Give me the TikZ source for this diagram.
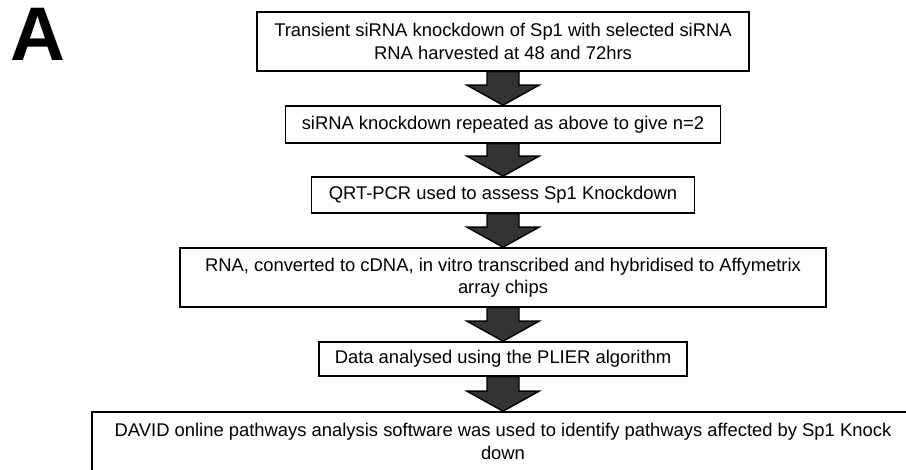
\documentclass[tikz,border=0pt]{standalone}
\usepackage{fontspec}
\setmainfont{Liberation Sans}

\begin{document}
\begin{tikzpicture}[x=1pt,y=1pt,
    procbox/.style={draw,line width=1.6pt,inner sep=0pt,align=center,font=\fontsize{18.4}{22.5}\selectfont},
    blockarrow/.style={draw=black,fill=black!80,line width=1.4pt,line join=miter}]
    \useasboundingbox(0,0)rectangle(906,-470);
    \clip(0,0)rectangle(906,-470);

    \node[anchor=north west,inner sep=0pt,font=\fontsize{76}{76}\bfseries\selectfont](panel)at(10,-8){A};

    \node[procbox,minimum width=492pt,minimum height=59pt](harvest)at(503,-41.5){Transient siRNA knockdown of Sp1 with selected siRNA\\RNA harvested at 48 and 72hrs};
    \node[procbox,minimum width=435pt,minimum height=37pt](repeatkd)at(503,-124.5){siRNA knockdown repeated as above to give n=2};
    \node[procbox,minimum width=383pt,minimum height=36pt](qpcr)at(503,-195){QRT-PCR used to assess Sp1 Knockdown};
    \node[procbox,minimum width=646pt,minimum height=59pt](arrays)at(503,-277.5){RNA, converted to cDNA, in vitro transcribed and hybridised to Affymetrix\\array chips};
    \node[procbox,minimum width=368pt,minimum height=34pt](plier)at(503,-359){Data analysed using the PLIER algorithm};
    \node[procbox,minimum width=822pt,minimum height=59pt](david)at(503,-441.5){DAVID online pathways analysis software was used to identify pathways affected by Sp1 Knock\\down};

    % fat arrows between the steps
    \foreach \a/\b in {harvest/repeatkd,repeatkd/qpcr,qpcr/arrays,arrays/plier,plier/david}
        \filldraw[blockarrow]([xshift=-16pt]\a.south)--([xshift=16pt]\a.south)--([xshift=16pt,yshift=20pt]\b.north)--([xshift=36pt,yshift=20pt]\b.north)--(\b.north)--([xshift=-36pt,yshift=20pt]\b.north)--([xshift=-16pt,yshift=20pt]\b.north)--cycle;
\end{tikzpicture}
\end{document}
